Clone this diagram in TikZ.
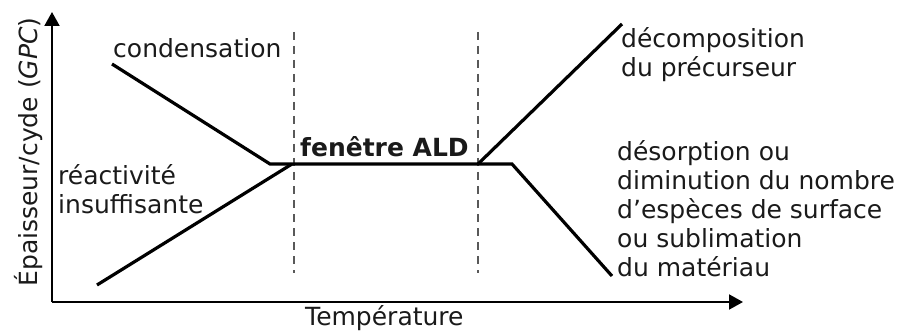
\documentclass[tikz,border=0pt]{standalone}
\usepackage{fontspec}
\setmainfont{DejaVu Sans}
\usetikzlibrary{arrows.meta}
\definecolor{txt}{HTML}{1A1A1A}
\begin{document}
\begin{tikzpicture}[x=1pt,y=-1pt,
  lbl/.style={inner sep=0pt,text=txt,font=\fontsize{25}{29}\selectfont,align=left},
  curve/.style={line width=3.2pt,line join=miter},
  axisline/.style={line width=2pt,-{Triangle[length=14pt,width=15pt]}},
  guide/.style={line width=1.8pt,draw=black!65,dash pattern=on 8pt off 6pt}]
\useasboundingbox (0,0) rectangle (905,334);
% axes
\coordinate (O) at (52,302);
\coordinate (Ytop) at (52,12);
\coordinate (Xend) at (743,302);
\draw[axisline] (O) -- (Ytop);
\draw[axisline] (O) -- (Xend);
% dashed guides
\coordinate (g1a) at (294,32); \coordinate (g1b) at (294,273);
\coordinate (g2a) at (478,32); \coordinate (g2b) at (478,273);
\draw[guide] (g1a) -- (g1b);
\draw[guide] (g2a) -- (g2b);
% curves
\coordinate (c0) at (112,64);
\coordinate (c1) at (270,164);
\coordinate (p0) at (292,164);
\coordinate (p1) at (478,164);
\coordinate (p2) at (512,164);
\coordinate (r0) at (97,285);
\coordinate (d1) at (622,24);
\coordinate (s1) at (612,276);
\draw[curve] (c0) -- (c1) -- (p0) -- (p2) -- (s1);
\draw[curve] (r0) -- (p0);
\draw[curve] (p1) -- (d1);
% labels (multi-line nodes: base = last line)
\node[lbl,anchor=base west] (cond) at (113,58) {condensation};
\node[lbl,anchor=base west] (reac) at (58,213) {réactivité\\insuffisante};
\node[lbl,anchor=base west,font=\fontsize{25}{29}\selectfont\bfseries] (ald) at (300,157) {fenêtre ALD};
\node[lbl,anchor=base west] (temp) at (305,325) {Température};
\node[lbl,anchor=base,rotate=90] (ylab) at (37,152) {Épaisseur/cyde (\textit{GPC})};
\node[lbl,anchor=base west] (dec) at (621,77) {décomposition\\du précurseur};
\node[lbl,anchor=base west] (des) at (617,276) {désorption ou\\diminution du nombre\\d’espèces de surface\\ou sublimation\\du matériau};
\end{tikzpicture}
\end{document}
